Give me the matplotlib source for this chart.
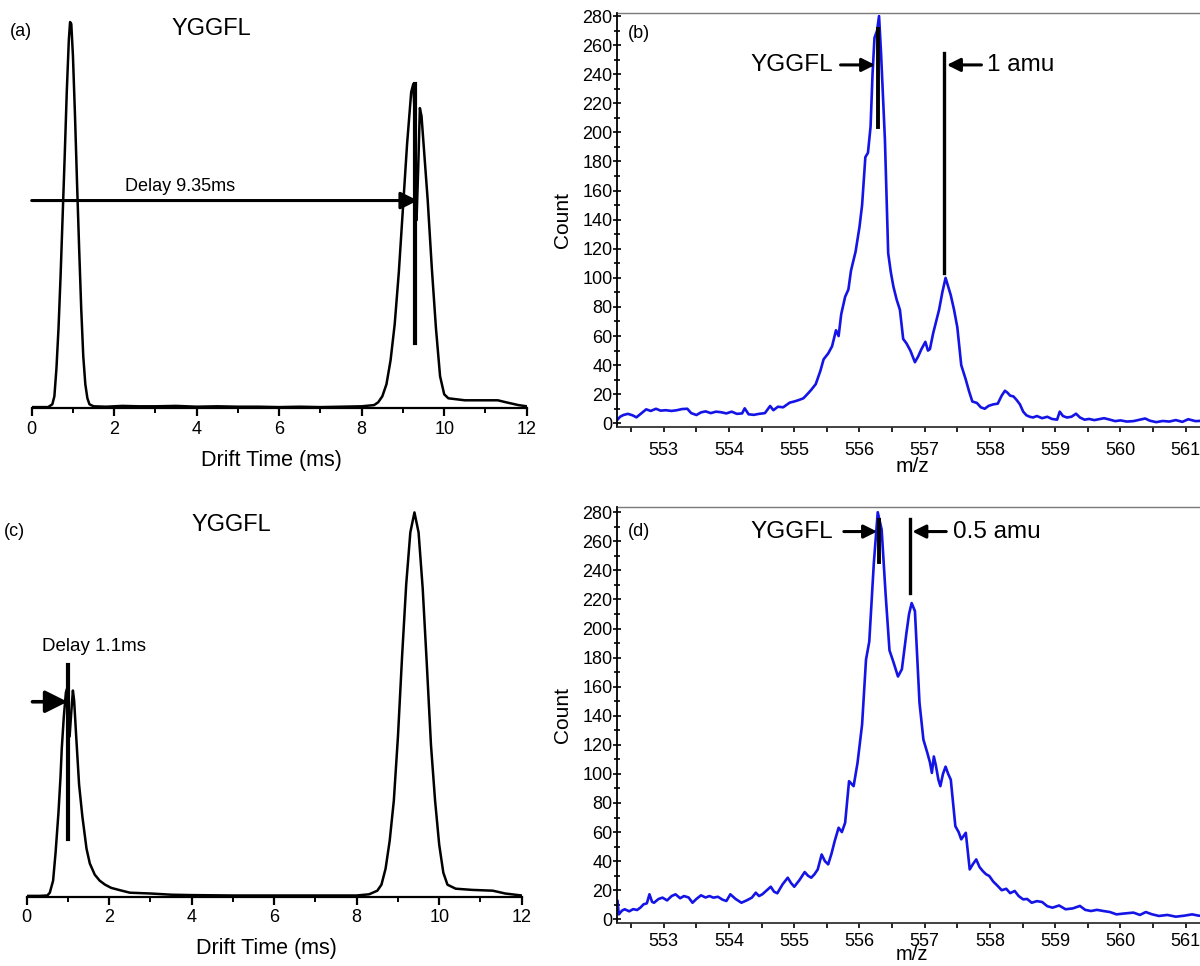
import matplotlib
matplotlib.use("Agg")
import matplotlib.pyplot as plt
from matplotlib.ticker import MultipleLocator

plt.rcParams['font.family'] = ['Liberation Sans', 'DejaVu Sans']

# ---------------- data ----------------
# (a) drift time trace (arbitrary intensity, 0-100)
a_time = [0.0, 0.2, 0.4, 0.5, 0.55, 0.6, 0.65, 0.7, 0.75, 0.8, 0.85, 0.9, 0.93, 0.96, 1.0,
          1.05, 1.1, 1.15, 1.2, 1.25, 1.3, 1.35, 1.4, 1.5, 1.8, 2.2, 2.6, 3.0, 3.5, 4.0,
          4.5, 5.0, 5.5, 6.0, 6.5, 7.0, 7.5, 8.0, 8.3, 8.4, 8.5, 8.6, 8.7, 8.8, 8.9, 9.0,
          9.1, 9.2, 9.25, 9.3, 9.33, 9.37, 9.41, 9.45, 9.5, 9.6, 9.7, 9.8, 9.9, 10.0,
          10.1, 10.5, 11.0, 11.3, 11.5, 11.8, 12.0]
a_int = [0.3, 0.3, 0.3, 1.0, 3.0, 10.0, 20.0, 33.0, 48.0, 63.0, 79.0, 92.0, 96.5, 96.0, 88.0,
         73.0, 56.0, 40.0, 25.0, 13.0, 6.0, 2.5, 1.0, 0.5, 0.4, 0.6, 0.5, 0.5, 0.6, 0.4,
         0.5, 0.4, 0.4, 0.3, 0.4, 0.3, 0.4, 0.5, 0.8, 1.5, 3.0, 6.0, 12.0, 21.0, 34.0, 50.0,
         66.0, 79.0, 81.0, 70.0, 47.0, 60.0, 75.0, 73.0, 66.0, 52.0, 35.0, 20.0, 8.0, 3.5,
         2.5, 2.0, 2.0, 2.0, 1.5, 0.8, 0.5]

# (c) drift time trace
c_time = [0.0, 0.3, 0.5, 0.56, 0.6, 0.64, 0.7, 0.77, 0.82, 0.85, 0.9, 0.95, 0.98, 1.01,
          1.04, 1.08, 1.12, 1.15, 1.2, 1.27, 1.35, 1.45, 1.53, 1.65, 1.77, 1.9, 2.05, 2.27,
          2.5, 3.0, 3.5, 4.0, 5.0, 6.0, 7.0, 8.0, 8.3, 8.5, 8.6, 8.7, 8.8, 8.9, 9.0, 9.1,
          9.2, 9.3, 9.4, 9.5, 9.6, 9.7, 9.8, 9.9, 10.0, 10.1, 10.2, 10.4, 10.8, 11.3,
          11.6, 12.0]
c_int = [0.2, 0.2, 0.3, 1.0, 2.5, 4.0, 11.0, 21.0, 30.0, 37.0, 45.0, 51.0, 52.0, 46.0,
         40.0, 46.0, 51.5, 49.0, 40.0, 28.0, 20.0, 12.0, 8.3, 5.5, 4.0, 3.0, 2.2, 1.6,
         1.0, 0.8, 0.5, 0.4, 0.3, 0.3, 0.3, 0.3, 0.6, 1.5, 3.0, 7.0, 14.0, 24.0, 40.0, 60.0,
         78.0, 91.0, 96.0, 91.0, 77.0, 58.0, 38.0, 24.0, 13.0, 6.0, 3.0, 2.0, 1.7, 1.5,
         0.8, 0.3]

# (b) mass spectrum
b_mz = [552.29, 552.33, 552.38, 552.45, 552.52, 552.58, 552.66, 552.73, 552.80, 552.88,
        552.95, 553.03, 553.12, 553.20, 553.28, 553.36, 553.42, 553.50, 553.57, 553.64,
        553.72, 553.80, 553.88, 553.96, 554.04, 554.12, 554.20, 554.24, 554.30, 554.38,
        554.46, 554.55, 554.63, 554.68, 554.75, 554.83, 554.93, 555.00, 555.07, 555.14,
        555.20, 555.26, 555.33, 555.40, 555.45, 555.52, 555.58, 555.64, 555.68, 555.72,
        555.78, 555.83, 555.87, 555.94, 556.00, 556.04, 556.09, 556.13, 556.17, 556.20,
        556.23, 556.27, 556.30, 556.33, 556.36, 556.39, 556.44, 556.48, 556.52, 556.57,
        556.62, 556.67, 556.72, 556.78, 556.85, 556.90, 556.95, 557.01, 557.05, 557.08,
        557.13, 557.17, 557.22, 557.27, 557.32, 557.36, 557.40, 557.45, 557.50, 557.56,
        557.63, 557.68, 557.73, 557.80, 557.86, 557.92, 557.98, 558.05, 558.12, 558.18,
        558.23, 558.27, 558.31, 558.36, 558.41, 558.46, 558.51, 558.56, 558.61, 558.66,
        558.72, 558.80, 558.88, 558.95, 559.03, 559.07, 559.12, 559.18, 559.25, 559.32,
        559.38, 559.45, 559.52, 559.60, 559.67, 559.75, 559.84, 559.92, 560.00, 560.10,
        560.20, 560.30, 560.38, 560.45, 560.55, 560.65, 560.75, 560.85, 560.95, 561.04,
        561.15, 561.30, 561.40]
b_count = [2.5, 4.5, 5.7, 6.5, 5.5, 4.1, 7.0, 9.6, 8.5, 10.0,
           8.7, 9.0, 8.5, 9.0, 9.8, 10.0, 7.0, 5.7, 7.5, 8.2,
           7.0, 8.0, 7.6, 6.8, 8.0, 6.5, 6.8, 10.3, 6.2, 5.8,
           6.5, 7.0, 11.9, 9.0, 11.4, 11.0, 14.2, 15.0, 16.0, 17.2,
           20.0, 23.0, 27.0, 36.0, 44.0, 48.0, 53.0, 64.0, 60.0, 75.0,
           87.0, 92.0, 105.0, 118.0, 135.0, 150.0, 183.0, 186.0, 204.0, 240.0,
           265.0, 270.0, 280.0, 255.0, 225.0, 195.0, 117.0, 104.0, 94.0, 85.0,
           78.0, 58.0, 55.0, 50.0, 42.0, 46.0, 51.0, 56.0, 50.0, 51.0,
           62.0, 69.0, 78.0, 90.0, 100.0, 94.0, 88.0, 78.0, 66.0, 40.0,
           30.0, 22.0, 15.0, 14.0, 11.0, 10.0, 12.0, 13.0, 13.5, 19.0,
           22.4, 21.0, 19.0, 18.5, 16.0, 13.0, 8.0, 5.5, 4.5, 4.0,
           5.0, 3.5, 4.5, 3.0, 2.5, 8.0, 5.0, 4.0, 4.5, 6.6,
           4.0, 2.5, 3.0, 2.2, 2.8, 3.5, 2.5, 1.5, 2.0, 1.2,
           1.5, 2.5, 3.3, 1.8, 0.8, 1.6, 1.2, 2.2, 1.0, 2.8,
           1.5, 1.8, 1.5]

# (d) mass spectrum
d_mz = [552.29, 552.31, 552.36, 552.40, 552.47, 552.53, 552.59, 552.64, 552.69, 552.74,
        552.78, 552.82, 552.85, 552.92, 552.98, 553.05, 553.12, 553.18, 553.25, 553.31,
        553.38, 553.44, 553.50, 553.57, 553.64, 553.70, 553.76, 553.83, 553.90, 553.96,
        554.02, 554.10, 554.19, 554.27, 554.35, 554.41, 554.46, 554.51, 554.58, 554.64,
        554.69, 554.74, 554.82, 554.90, 554.95, 555.00, 555.08, 555.16, 555.21, 555.26,
        555.31, 555.36, 555.42, 555.47, 555.52, 555.57, 555.62, 555.68, 555.73, 555.78,
        555.84, 555.91, 555.97, 556.04, 556.10, 556.15, 556.22, 556.28, 556.34, 556.40,
        556.46, 556.52, 556.59, 556.65, 556.72, 556.76, 556.80, 556.85, 556.92, 556.98,
        557.04, 557.08, 557.11, 557.14, 557.17, 557.21, 557.24, 557.28, 557.32, 557.36,
        557.40, 557.47, 557.52, 557.56, 557.63, 557.69, 557.74, 557.79, 557.84, 557.89,
        557.94, 557.99, 558.05, 558.12, 558.18, 558.25, 558.31, 558.38, 558.44, 558.51,
        558.57, 558.64, 558.72, 558.80, 558.88, 558.96, 559.06, 559.16, 559.27, 559.38,
        559.46, 559.55, 559.64, 559.74, 559.84, 559.94, 560.06, 560.20, 560.30, 560.39,
        560.48, 560.59, 560.72, 560.85, 560.98, 561.10, 561.20, 561.30, 561.40]
d_count = [12.6, 3.4, 6.0, 6.9, 5.5, 7.0, 6.4, 8.0, 10.3, 11.0,
           17.2, 12.0, 11.4, 14.0, 14.9, 13.0, 16.0, 17.2, 14.5, 16.0,
           15.0, 11.4, 14.0, 16.5, 15.0, 16.0, 14.9, 15.5, 13.5, 12.6,
           17.2, 14.0, 11.4, 13.0, 14.9, 18.3, 16.0, 17.2, 20.0, 22.4,
           19.0, 17.9, 24.0, 28.6, 25.0, 22.4, 27.0, 32.5, 30.0, 28.6,
           31.0, 34.3, 44.6, 40.0, 37.8, 45.0, 53.8, 63.0, 60.0, 66.4,
           95.0, 91.6, 107.6, 134.0, 178.6, 191.0, 245.0, 280.0, 268.0, 224.0,
           185.0, 177.0, 167.0, 172.0, 197.0, 210.0, 217.5, 212.0, 149.0, 123.6,
           114.5, 108.0, 100.7, 112.0, 106.0, 96.0, 91.6, 100.0, 105.0, 100.0,
           96.0, 64.0, 60.0, 55.0, 59.5, 34.3, 38.0, 41.2, 36.0, 33.2,
           31.0, 29.8, 26.0, 22.9, 20.0, 21.0, 18.0, 19.5, 16.0, 13.7,
           14.0, 11.4, 12.5, 11.9, 9.0, 8.0, 9.5, 6.9, 7.5, 9.2,
           6.5, 5.7, 6.5, 5.7, 5.0, 3.4, 4.0, 4.6, 3.0, 5.0,
           3.5, 2.3, 3.0, 1.8, 2.5, 3.4, 2.5, 2.3, 2.0]

# ---------------- figure ----------------
W, H = 1200, 966
fig = plt.figure(figsize=(W / 100, H / 100), dpi=100)


def px_axes(l, t, r, b):
    return fig.add_axes([l / W, 1 - b / H, (r - l) / W, (b - t) / H])


BLUE = '#1414e6'


def drift_axes(ax):
    ax.set_xlim(0, 12)
    ax.set_ylim(0, 100)
    for s in ('left', 'top', 'right'):
        ax.spines[s].set_visible(False)
    ax.spines['bottom'].set_linewidth(1.6)
    ax.set_yticks([])
    ax.xaxis.set_major_locator(MultipleLocator(2))
    ax.xaxis.set_minor_locator(MultipleLocator(1))
    ax.tick_params(axis='x', which='major', direction='out', length=6, width=1.6,
                   labelsize=13, pad=3)
    ax.tick_params(axis='x', which='minor', direction='out', length=3.5, width=1.4)
    ax.text(0.485, -0.13, 'Drift Time (ms)', transform=ax.transAxes, ha='center',
            va='center', fontsize=15.5)
    ax.patch.set_alpha(0)


def ms_axes(ax, ytop, mz_y, xpad, mz_size):
    ax.set_xlim(552.29, 561.374)
    ax.set_ylim(-2.75, ytop)
    ax.spines['right'].set_visible(False)
    ax.spines['top'].set_color('#7a7a7a')
    ax.spines['top'].set_linewidth(1.0)
    ax.spines['left'].set_linewidth(1.3)
    ax.spines['bottom'].set_linewidth(1.3)
    ax.spines['bottom'].set_color('#333333')
    ax.xaxis.set_major_locator(MultipleLocator(1))
    ax.xaxis.set_minor_locator(MultipleLocator(0.5))
    ax.yaxis.set_major_locator(MultipleLocator(20))
    ax.yaxis.set_minor_locator(MultipleLocator(10))
    ax.tick_params(axis='x', which='both', direction='out', length=3.5, width=1.2,
                   labelsize=13, pad=xpad)
    ax.tick_params(axis='y', which='major', direction='inout', length=6, width=1.2,
                   labelsize=13, pad=0.5)
    ax.tick_params(axis='y', which='minor', direction='inout', length=4.5, width=1.2)
    ax.text(-0.092, 0.5, 'Count', transform=ax.transAxes, rotation=90, ha='center',
            va='center', fontsize=15)
    ax.text(0.497, mz_y, 'm/z', transform=ax.transAxes, ha='center', va='center',
            fontsize=mz_size)


# ---- (a) ----
ax_a = px_axes(31.7, 8.0, 526.7, 408.3)
drift_axes(ax_a)
ax_a.plot(a_time, a_int, color='black', lw=1.8)
ax_a.plot([9.29, 9.29], [81, 16.3], color='black', lw=3)
ax_a.annotate('', xy=(9.36, 51.9), xytext=(0.0, 51.9),
              arrowprops=dict(arrowstyle='-|>', lw=2.2, color='black', mutation_scale=26,
                              shrinkA=0, shrinkB=0))
ax_a.text(3.6, 55.3, 'Delay 9.35ms', ha='center', va='center', fontsize=13)
ax_a.text(4.35, 94.8, 'YGGFL', ha='center', va='center', fontsize=17)
ax_a.text(-0.52, 94.1, '(a)', ha='left', va='center', fontsize=13, clip_on=False)

# ---- (c) ----
ax_c = px_axes(26.7, 496.4, 521.7, 896.7)
drift_axes(ax_c)
ax_c.plot(c_time, c_int, color='black', lw=1.8)
ax_c.plot([1.0, 1.0], [58, 14.3], color='black', lw=3)
ax_c.annotate('', xy=(0.99, 48.7), xytext=(0.14, 48.7),
              arrowprops=dict(arrowstyle='-|>', lw=2.6, color='black', mutation_scale=34,
                              shrinkA=0, shrinkB=0))
ax_c.text(0.36, 62.5, 'Delay 1.1ms', ha='left', va='center', fontsize=13.5)
ax_c.text(4.95, 92.9, 'YGGFL', ha='center', va='center', fontsize=17)
ax_c.text(-0.55, 91.2, '(c)', ha='left', va='center', fontsize=13, clip_on=False)

# ---- (b) ----
ax_b = px_axes(617.5, 12.7, 1210, 427.3)
ms_axes(ax_b, 282.3, -0.095, 7, 15)
ax_b.plot(b_mz, b_count, color=BLUE, lw=1.9)
ax_b.plot([556.28, 556.28], [271, 204], color='black', lw=2.8)
ax_b.plot([557.30, 557.30], [254.4, 103.4], color='black', lw=2.4)
ax_b.annotate('', xy=(556.24, 246.4), xytext=(555.71, 246.4),
              arrowprops=dict(arrowstyle='-|>', lw=2.2, color='black', mutation_scale=20,
                              shrinkA=0, shrinkB=0))
ax_b.annotate('', xy=(557.34, 246.4), xytext=(557.87, 246.4),
              arrowprops=dict(arrowstyle='-|>', lw=2.2, color='black', mutation_scale=20,
                              shrinkA=0, shrinkB=0))
ax_b.text(555.60, 246.4, 'YGGFL', ha='right', va='center', fontsize=17.5)
ax_b.text(557.95, 246.4, '1 amu', ha='left', va='center', fontsize=17.5)
ax_b.text(552.45, 268, '(b)', ha='left', va='center', fontsize=13)

# ---- (d) ----
ax_d = px_axes(617.5, 506.7, 1210, 923.3)
ms_axes(ax_d, 283.8, -0.0745, 3.5, 14.5)
ax_d.plot(d_mz, d_count, color=BLUE, lw=1.9)
ax_d.plot([556.30, 556.30], [274.7, 246], color='black', lw=2.8)
ax_d.plot([556.77, 556.77], [275, 224.4], color='black', lw=2.4)
ax_d.annotate('', xy=(556.27, 266.7), xytext=(555.76, 266.7),
              arrowprops=dict(arrowstyle='-|>', lw=2.2, color='black', mutation_scale=20,
                              shrinkA=0, shrinkB=0))
ax_d.annotate('', xy=(556.81, 266.7), xytext=(557.33, 266.7),
              arrowprops=dict(arrowstyle='-|>', lw=2.2, color='black', mutation_scale=20,
                              shrinkA=0, shrinkB=0))
ax_d.text(555.60, 266.7, 'YGGFL', ha='right', va='center', fontsize=17.5)
ax_d.text(557.43, 266.7, '0.5 amu', ha='left', va='center', fontsize=17.5)
ax_d.text(552.45, 266.7, '(d)', ha='left', va='center', fontsize=13)

fig.savefig('out.png', dpi=100)
